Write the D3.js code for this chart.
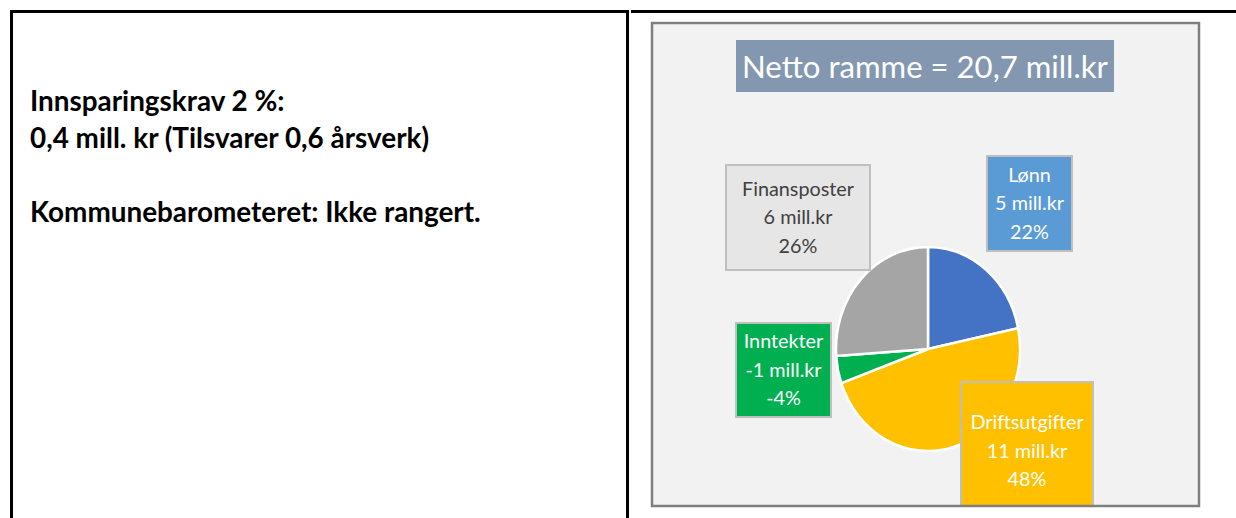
<!DOCTYPE html>
<html>
<head>
<meta charset="utf-8">
<script src="https://cdn.jsdelivr.net/npm/d3@7/dist/d3.min.js"></script>
<style>
  html, body { margin: 0; padding: 0; background: #ffffff; }
  svg { display: block; }
</style>
</head>
<body>
<svg id="chart" width="1236" height="518"></svg>
<script>
// Budget categories and amounts (mill. kr)
const categories = ["Lønn", "Driftsutgifter", "Inntekter", "Finansposter"];
const amounts = [5, 11, -1, 6];
const percentLabels = ["22%", "48%", "-4%", "26%"];
const amountLabels = ["5 mill.kr", "11 mill.kr", "-1 mill.kr", "6 mill.kr"];
const titleText = "Netto ramme = 20,7 mill.kr";
const noteLines = [
  "Innsparingskrav 2 %:",
  "0,4 mill. kr (Tilsvarer 0,6 årsverk)",
  "",
  "Kommunebarometeret: Ikke rangert."
];

const sliceColors = ["#4472c4", "#ffc000", "#00b050", "#a5a5a5"];
const boxFills = ["#5b9bd5", "#ffc000", "#00b050", "#e7e6e6"];
const boxText = ["#ffffff", "#ffffff", "#ffffff", "#404040"];

const FONT = "Lato, 'Open Sans', sans-serif";
const svg = d3.select("#chart");

// Measure a string and return the font size that makes it the given width
function fitSize(str, width, weight) {
  const t = svg.append("text")
    .attr("font-family", FONT).attr("font-size", 100)
    .attr("font-weight", weight).text(str);
  const w = t.node().getComputedTextLength();
  t.remove();
  return 100 * width / w;
}

// ---- table cell borders ----
const black = "#000000";
svg.append("rect").attr("x", 10).attr("y", 10).attr("width", 616).attr("height", 3).attr("fill", black);
svg.append("rect").attr("x", 631).attr("y", 10).attr("width", 605).attr("height", 3).attr("fill", black);
svg.append("rect").attr("x", 10).attr("y", 10).attr("width", 3).attr("height", 508).attr("fill", black);
svg.append("rect").attr("x", 626).attr("y", 10).attr("width", 3).attr("height", 508).attr("fill", black);

// ---- left cell notes ----
const noteSize = fitSize(noteLines[3], 451, "bold");
const noteG = svg.append("g").attr("font-family", FONT).attr("font-weight", "bold")
  .attr("font-size", noteSize).attr("fill", "#000000");
const noteY = d3.scaleLinear().domain([0, 1]).range([111, 148]);
noteG.selectAll("text").data(noteLines).join("text")
  .attr("x", 30).attr("y", (d, i) => noteY(i)).text(d => d);

// ---- chart frame ----
const frame = { x: 652, y: 23, w: 547, h: 483 };
const chart = svg.append("g");
chart.append("rect").attr("x", frame.x).attr("y", frame.y)
  .attr("width", frame.w).attr("height", frame.h).attr("fill", "#f2f2f2");
const clipId = "frameClip";
svg.append("defs").append("clipPath").attr("id", clipId).append("rect")
  .attr("x", frame.x).attr("y", frame.y).attr("width", frame.w).attr("height", frame.h);
const inner = chart.append("g").attr("clip-path", `url(#${clipId})`);

// title box
const titleSize = fitSize(titleText, 366, "normal");
inner.append("rect").attr("x", 736).attr("y", 40).attr("width", 378).attr("height", 52)
  .attr("fill", "#8497b0");
inner.append("text").attr("x", 925).attr("y", 78).attr("text-anchor", "middle")
  .attr("font-family", FONT).attr("font-size", titleSize).attr("fill", "#ffffff")
  .text(titleText);

// ---- pie (drawn as a circle, stretched vertically) ----
const cx = 928, cy = 349, rx = 92, ry = 102;
const pie = d3.pie().sort(null).value(d => Math.abs(d));
const arcs = pie(amounts);
const arc = d3.arc().innerRadius(0).outerRadius(rx);
inner.append("g").attr("transform", `translate(${cx},${cy}) scale(1,${ry / rx})`)
  .selectAll("path").data(arcs).join("path")
  .attr("d", arc)
  .attr("fill", (d, i) => sliceColors[i])
  .attr("stroke", "#ffffff").attr("stroke-width", 2.5)
  .attr("vector-effect", "non-scaling-stroke")
  .attr("stroke-linejoin", "round");

// ---- data label boxes (positions relative to the pie centre) ----
const boxes = [
  { dx: 59, dy: -193, w: 85, h: 95 },    // Lønn
  { dx: 33, dy: 33, w: 132, h: 130 },    // Driftsutgifter
  { dx: -192, dy: -26, w: 95, h: 94 },   // Inntekter
  { dx: -202, dy: -184, w: 144, h: 105 } // Finansposter
];
const labelSize = fitSize("Finansposter", 112, "normal");
const lineStep = 28.5;

const labelG = inner.append("g").attr("font-family", FONT).attr("font-size", labelSize);
categories.forEach((cat, i) => {
  const b = boxes[i];
  const x0 = cx + b.dx, y0 = cy + b.dy;
  const g = labelG.append("g");
  g.append("rect").attr("x", x0).attr("y", y0).attr("width", b.w).attr("height", b.h)
    .attr("fill", boxFills[i]).attr("stroke", "#bfbfbf").attr("stroke-width", 2);
  const lines = [cat, amountLabels[i], percentLabels[i]];
  const midY = (i === 1) ? y0 + 69 : y0 + b.h / 2;
  g.selectAll("text").data(lines).join("text")
    .attr("x", x0 + b.w / 2)
    .attr("y", (d, k) => midY + (k - 1) * lineStep + labelSize * 0.34)
    .attr("text-anchor", "middle")
    .attr("fill", boxText[i])
    .text(d => d);
});

// frame border on top
chart.append("rect").attr("x", frame.x).attr("y", frame.y)
  .attr("width", frame.w).attr("height", frame.h)
  .attr("fill", "none").attr("stroke", "#7f7f7f").attr("stroke-width", 2.5);
</script>
</body>
</html>
